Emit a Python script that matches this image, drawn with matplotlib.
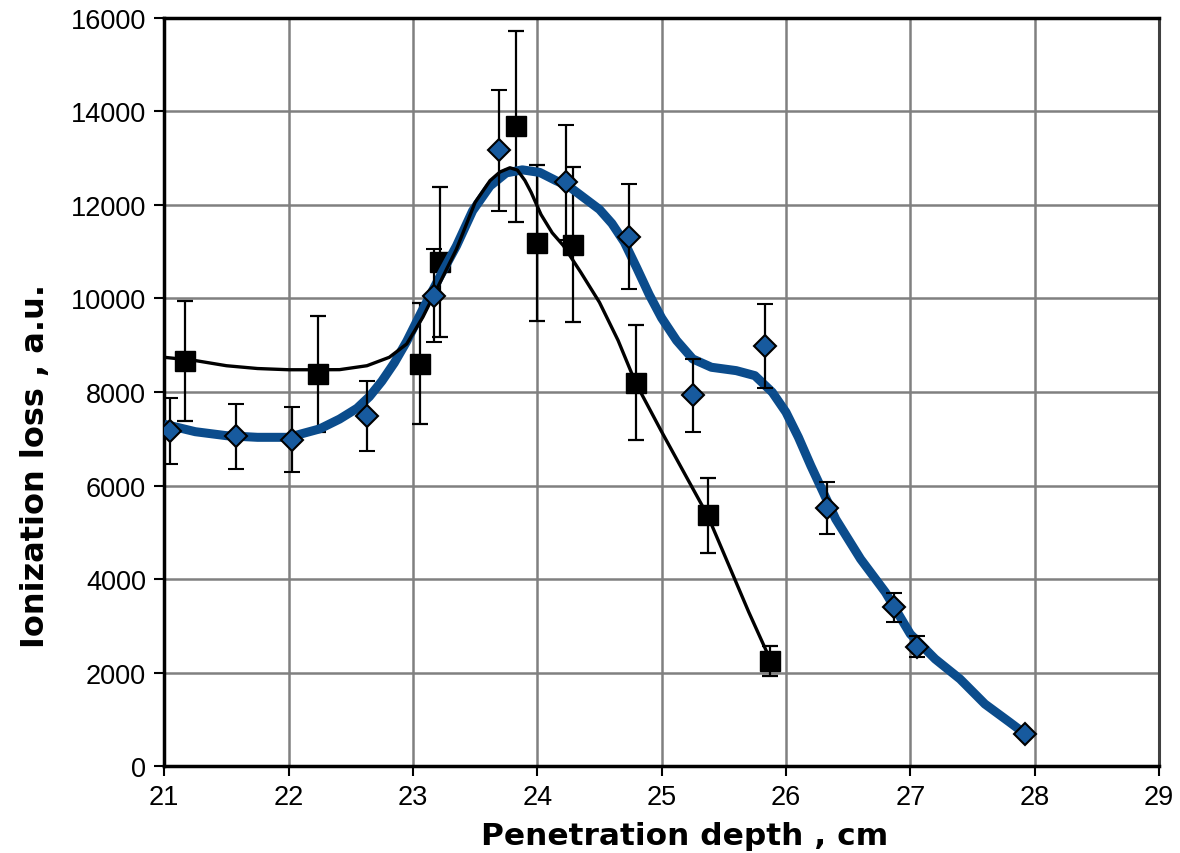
import matplotlib
matplotlib.use("Agg")
import matplotlib.pyplot as plt

# measured points with error bars (black squares)
sq_x = [21.17, 22.24, 23.06, 23.22, 23.83, 24.00, 24.29, 24.79, 25.37, 25.87]
sq_y = [8660, 8375, 8600, 10780, 13680, 11180, 11150, 8200, 5360, 2250]
sq_err = [1290, 1240, 1290, 1600, 2040, 1660, 1660, 1220, 800, 330]

# measured points with error bars (blue diamonds)
dm_x = [21.05, 21.58, 22.03, 22.63, 23.17, 23.69, 24.23, 24.74, 25.25, 25.83,
        26.33, 26.87, 27.05, 27.92]
dm_y = [7160, 7050, 6980, 7480, 10060, 13160, 12480, 11320, 7930, 8980,
        5525, 3400, 2560, 700]
dm_err = [700, 700, 700, 750, 1000, 1300, 1230, 1120, 780, 900,
          560, 310, 230, 60]

# smooth curve through the squares
fit_sq_x = [21.0, 21.25, 21.5, 21.75, 22.0, 22.25, 22.41, 22.63, 22.81, 22.95,
            23.08, 23.22, 23.35, 23.5, 23.62, 23.7, 23.78, 23.84, 23.9, 23.95,
            24.03, 24.12, 24.21, 24.35, 24.5, 24.65, 24.79, 25.0, 25.2, 25.37,
            25.5, 25.7, 25.87]
fit_sq_y = [8740, 8670, 8560, 8500, 8474, 8474, 8476, 8560, 8740, 9025,
            9600, 10350, 11050, 12050, 12515, 12700, 12790, 12740, 12520, 12268,
            11790, 11400, 11126, 10555, 9914, 9100, 8200, 7150, 6180, 5360,
            4550, 3300, 2300]

# smooth curve through the diamonds
fit_dm_x = [21.0, 21.25, 21.5, 21.75, 22.0, 22.25, 22.41, 22.55, 22.65, 22.75,
            22.85, 22.95, 23.08, 23.22, 23.35, 23.48, 23.62, 23.75, 23.88, 24.02,
            24.15, 24.25, 24.5, 24.6, 24.7, 24.8, 24.9, 25.0, 25.12, 25.25,
            25.4, 25.6, 25.75, 25.89, 26.0, 26.1, 26.2, 26.4, 26.6, 26.8,
            27.0, 27.2, 27.4, 27.6, 27.8, 27.92]
fit_dm_y = [7310, 7150, 7065, 7030, 7030, 7210, 7420, 7650, 7900, 8230,
            8620, 9080, 9770, 10480, 11120, 11870, 12400, 12680, 12745, 12690,
            12515, 12400, 11900, 11600, 11200, 10650, 10080, 9580, 9100, 8705,
            8527, 8455, 8348, 7993, 7566, 7031, 6423, 5284, 4430, 3718,
            2827, 2293, 1865, 1331, 940, 700]

blue = "#0b4c8c"

fig = plt.figure(figsize=(11.8, 8.54), dpi=100)
ax = fig.add_axes([0.1392, 0.1015, 0.8430, 0.8768])

ax.errorbar(sq_x, sq_y, yerr=sq_err, fmt="s", color="black", ms=14,
            ecolor="black", elinewidth=1.6, capsize=5.5, capthick=1.6, zorder=3)
ax.plot(fit_dm_x, fit_dm_y, color=blue, lw=6.5, solid_capstyle="butt",
        solid_joinstyle="round", zorder=4)
ax.plot(fit_sq_x, fit_sq_y, color="black", lw=2.4, solid_joinstyle="round",
        zorder=5)
ax.errorbar(dm_x, dm_y, yerr=dm_err, fmt="D", mfc="#175a9e", mec="black",
            mew=1.5, ms=11, ecolor="black", elinewidth=1.6, capsize=5.5,
            capthick=1.6, zorder=6)

ax.set_xlim(21, 29)
ax.set_ylim(0, 16000)
ax.set_xticks(range(21, 30))
ax.set_yticks(range(0, 16001, 2000))
ax.grid(True, color="#808080", lw=1.8)
ax.set_axisbelow(True)

for s in ["left", "top", "bottom"]:
    ax.spines[s].set_linewidth(2.5)
    ax.spines[s].set_color("black")
ax.spines["right"].set_linewidth(2.2)
ax.spines["right"].set_color("#404040")

ax.tick_params(axis="both", direction="out", length=7, width=1.5,
               labelsize=19.5, pad=6)
for lab in ax.get_xticklabels() + ax.get_yticklabels():
    lab.set_family("Liberation Sans")

ax.set_xlabel("Penetration depth , cm", fontsize=22.5, fontweight="bold",
              family="DejaVu Sans", labelpad=7.5)
ax.set_ylabel("Ionization loss , a.u.", fontsize=23, fontweight="bold",
              family="DejaVu Sans", labelpad=14)
ax.xaxis.label.set_x(0.523)
ax.yaxis.label.set_y(0.402)

fig.savefig("out.png", dpi=100)
